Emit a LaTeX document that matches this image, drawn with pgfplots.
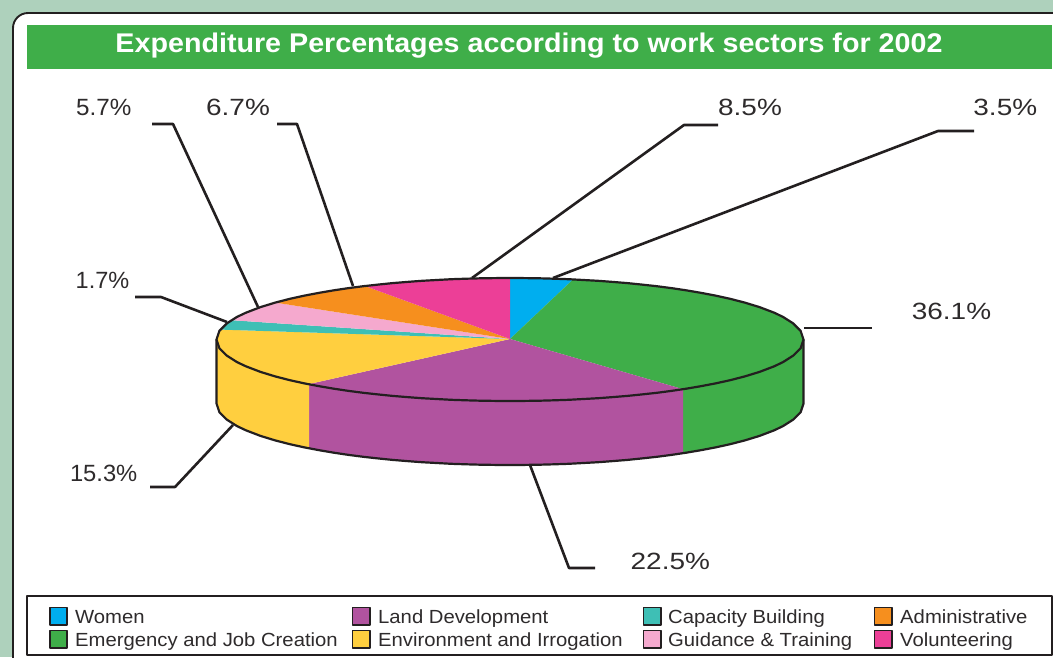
\documentclass[border=0pt]{standalone}
\usepackage{graphicx}
\usepackage{pgfplots}
\usepackage{fontspec}
\setmainfont{Liberation Sans}
\pgfplotsset{compat=1.18}
\definecolor{bgg}{HTML}{AED1BC}
\definecolor{ink}{HTML}{231F20}
\definecolor{txt}{HTML}{2E2B2C}
\definecolor{cW}{HTML}{00AEEF}
\definecolor{cE}{HTML}{3FAE49}
\definecolor{cL}{HTML}{B1539F}
\definecolor{cY}{HTML}{FFCF3F}
\definecolor{cC}{HTML}{3EBFB5}
\definecolor{cG}{HTML}{F5A9CE}
\definecolor{cA}{HTML}{F68F1E}
\definecolor{cV}{HTML}{EC3F97}
\begin{document}
\begin{tikzpicture}
\useasboundingbox (0,0) rectangle (1053pt,657pt);
\begin{axis}[at={(0,0)},anchor=south west,scale only axis,width=1053pt,height=657pt,
 xmin=0,xmax=1053,ymin=0,ymax=657,y dir=reverse,hide axis,clip=true,
 every axis plot/.append style={line join=round}]
% background and panel
\addplot[draw=none,fill=bgg] coordinates {(0,0)(1053,0)(1053,657)(0,657)} -- cycle;
\addplot[draw=ink,line width=1.9pt,fill=white,rounded corners=15pt] coordinates {(13,720)(13,13)(1120,13)(1120,720)} -- cycle;
\addplot[draw=none,fill=cE] coordinates {(27,25)(1052,25)(1052,69)(27,69)} -- cycle;
% side walls
\addplot[draw=none,fill=cE] coordinates {(803.5,339.5)(800.6,348.2)(793.2,355.6)(783,362.1)(774.2,366.3)(759.5,371.9)(744.8,376.4)(730.1,380.2)(715.5,383.4)(700.8,386.2)(686.1,388.7)(683,389.2)(683,453.2)(686.1,452.7)(700.8,450.2)(715.5,447.4)(730.1,444.2)(744.8,440.4)(759.5,435.9)(774.2,430.3)(783,426.1)(793.2,419.6)(800.6,412.2)(803.5,403.5)} -- cycle;
\addplot[draw=none,fill=cL] coordinates {(683,389.2)(671.4,390.9)(656.8,392.8)(642.1,394.4)(627.4,395.9)(612.7,397.1)(598.1,398.2)(583.4,399)(568.7,399.8)(554,400.3)(539.4,400.7)(524.7,400.9)(510,401)(495.3,400.9)(480.7,400.7)(466,400.3)(451.3,399.8)(436.6,399)(422,398.2)(407.3,397.1)(392.6,395.9)(377.9,394.4)(363.3,392.8)(348.6,390.9)(333.9,388.7)(319.2,386.2)(309,384)(309,448)(319.2,450.2)(333.9,452.7)(348.6,454.9)(363.3,456.8)(377.9,458.4)(392.6,459.9)(407.3,461.1)(422,462.2)(436.6,463)(451.3,463.8)(466,464.3)(480.7,464.7)(495.3,464.9)(510,465)(524.7,464.9)(539.4,464.7)(554,464.3)(568.7,463.8)(583.4,463)(598.1,462.2)(612.7,461.1)(627.4,459.9)(642.1,458.4)(656.8,456.8)(671.4,454.9)(683,453.2)} -- cycle;
\addplot[draw=none,fill=cY] coordinates {(309,384)(304.5,383.4)(289.9,380.2)(275.2,376.4)(260.5,371.9)(245.9,366.3)(237,362.1)(226.8,355.6)(219.4,348.2)(216.5,339.5)(216.5,403.5)(219.4,412.2)(226.8,419.6)(237,426.1)(245.9,430.3)(260.5,435.9)(275.2,440.4)(289.9,444.2)(304.5,447.4)(309,448)} -- cycle;
% top slices
\addplot[draw=none,fill=cW] coordinates {(510,339)(510,278)(524.7,278.1)(539.4,278.3)(554,278.7)(568.7,279.2)(573,279.5)} -- cycle;
\addplot[draw=none,fill=cE] coordinates {(510,339)(573,279.5)(583.4,280)(598.1,280.8)(612.7,281.9)(627.4,283.1)(642.1,284.6)(656.8,286.2)(671.4,288.1)(686.1,290.3)(700.8,292.8)(715.5,295.6)(730.1,298.8)(744.8,302.6)(759.5,307.1)(774.2,312.7)(783,316.9)(793.2,323.4)(800.6,330.8)(803.5,339.5)(800.6,348.2)(793.2,355.6)(783,362.1)(774.2,366.3)(759.5,371.9)(744.8,376.4)(730.1,380.2)(715.5,383.4)(700.8,386.2)(686.1,388.7)(683,389.2)} -- cycle;
\addplot[draw=none,fill=cL] coordinates {(510,339)(683,389.2)(671.4,390.9)(656.8,392.8)(642.1,394.4)(627.4,395.9)(612.7,397.1)(598.1,398.2)(583.4,399)(568.7,399.8)(554,400.3)(539.4,400.7)(524.7,400.9)(510,401)(495.3,400.9)(480.7,400.7)(466,400.3)(451.3,399.8)(436.6,399)(422,398.2)(407.3,397.1)(392.6,395.9)(377.9,394.4)(363.3,392.8)(348.6,390.9)(333.9,388.7)(319.2,386.2)(309,384)} -- cycle;
\addplot[draw=none,fill=cY] coordinates {(510,339)(309,384)(304.5,383.4)(289.9,380.2)(275.2,376.4)(260.5,371.9)(245.9,366.3)(237,362.1)(226.8,355.6)(219.4,348.2)(216.5,339.5)(219.4,330.8)(220.5,329.6)} -- cycle;
\addplot[draw=none,fill=cC] coordinates {(510,339)(220.5,329.6)(226.8,323.4)(232,320.2)} -- cycle;
\addplot[draw=none,fill=cG] coordinates {(510,339)(232,320.2)(237,316.9)(245.9,312.7)(260.5,307.1)(275.2,302.6)} -- cycle;
\addplot[draw=none,fill=cA] coordinates {(510,339)(275.2,302.6)(289.9,298.8)(304.5,295.6)(319.2,292.8)(333.9,290.3)(348.6,288.1)(365,286)} -- cycle;
\addplot[draw=none,fill=cV] coordinates {(510,339)(365,286)(377.9,284.6)(392.6,283.1)(407.3,281.9)(422,280.8)(436.6,280)(451.3,279.2)(466,278.7)(480.7,278.3)(495.3,278.1)(510,278)} -- cycle;
% outlines
\addplot[draw=ink,line width=2.2pt] coordinates {(510,278)(524.7,278.1)(539.4,278.3)(554,278.7)(568.7,279.2)(583.4,280)(598.1,280.8)(612.7,281.9)(627.4,283.1)(642.1,284.6)(656.8,286.2)(671.4,288.1)(686.1,290.3)(700.8,292.8)(715.5,295.6)(730.1,298.8)(744.8,302.6)(759.5,307.1)(774.2,312.7)(783,316.9)(793.2,323.4)(800.6,330.8)(803.5,339.5)(800.6,348.2)(793.2,355.6)(783,362.1)(774.2,366.3)(759.5,371.9)(744.8,376.4)(730.1,380.2)(715.5,383.4)(700.8,386.2)(686.1,388.7)(671.4,390.9)(656.8,392.8)(642.1,394.4)(627.4,395.9)(612.7,397.1)(598.1,398.2)(583.4,399)(568.7,399.8)(554,400.3)(539.4,400.7)(524.7,400.9)(510,401)(495.3,400.9)(480.7,400.7)(466,400.3)(451.3,399.8)(436.6,399)(422,398.2)(407.3,397.1)(392.6,395.9)(377.9,394.4)(363.3,392.8)(348.6,390.9)(333.9,388.7)(319.2,386.2)(304.5,383.4)(289.9,380.2)(275.2,376.4)(260.5,371.9)(245.9,366.3)(237,362.1)(226.8,355.6)(219.4,348.2)(216.5,339.5)(219.4,330.8)(226.8,323.4)(237,316.9)(245.9,312.7)(260.5,307.1)(275.2,302.6)(289.9,298.8)(304.5,295.6)(319.2,292.8)(333.9,290.3)(348.6,288.1)(363.3,286.2)(377.9,284.6)(392.6,283.1)(407.3,281.9)(422,280.8)(436.6,280)(451.3,279.2)(466,278.7)(480.7,278.3)(495.3,278.1)(510,278)} -- cycle;
\addplot[draw=ink,line width=2.2pt] coordinates {(803.5,339.5)(803.5,403.5)(800.6,412.2)(793.2,419.6)(783,426.1)(774.2,430.3)(759.5,435.9)(744.8,440.4)(730.1,444.2)(715.5,447.4)(700.8,450.2)(686.1,452.7)(671.4,454.9)(656.8,456.8)(642.1,458.4)(627.4,459.9)(612.7,461.1)(598.1,462.2)(583.4,463)(568.7,463.8)(554,464.3)(539.4,464.7)(524.7,464.9)(510,465)(495.3,464.9)(480.7,464.7)(466,464.3)(451.3,463.8)(436.6,463)(422,462.2)(407.3,461.1)(392.6,459.9)(377.9,458.4)(363.3,456.8)(348.6,454.9)(333.9,452.7)(319.2,450.2)(304.5,447.4)(289.9,444.2)(275.2,440.4)(260.5,435.9)(245.9,430.3)(237,426.1)(226.8,419.6)(219.4,412.2)(216.5,403.5)(216.5,339.5)};
% leader lines
\addplot[draw=ink,line width=2.6pt] coordinates {(152,124)(173,124)(258,307)};
\addplot[draw=ink,line width=2.6pt] coordinates {(277,124)(297,124)(353,286)};
\addplot[draw=ink,line width=2.6pt] coordinates {(718,125)(684,125)(472,278)};
\addplot[draw=ink,line width=2.6pt] coordinates {(974,131)(938,131)(553,278)};
\addplot[draw=ink,line width=2.6pt] coordinates {(804,328)(872,328)};
\addplot[draw=ink,line width=2.6pt] coordinates {(530,465)(569,568)(595,568)};
\addplot[draw=ink,line width=2.6pt] coordinates {(150,487)(175,487)(233,425)};
\addplot[draw=ink,line width=2.6pt] coordinates {(135,297)(161,297)(227,322)};
% legend box
\addplot[draw=ink,line width=1.7pt,fill=white] coordinates {(27,596)(1052,596)(1052,655)(27,655)} -- cycle;
\addplot[only marks,mark=square*,mark size=8.6pt,mark options={draw=ink,line width=1.8pt,fill=cW}] coordinates {(58.5,616)};
\addplot[only marks,mark=square*,mark size=8.6pt,mark options={draw=ink,line width=1.8pt,fill=cE}] coordinates {(58.5,639)};
\addplot[only marks,mark=square*,mark size=8.6pt,mark options={draw=ink,line width=1.8pt,fill=cL}] coordinates {(361,616)};
\addplot[only marks,mark=square*,mark size=8.6pt,mark options={draw=ink,line width=1.8pt,fill=cY}] coordinates {(361,639)};
\addplot[only marks,mark=square*,mark size=8.6pt,mark options={draw=ink,line width=1.8pt,fill=cC}] coordinates {(652,616)};
\addplot[only marks,mark=square*,mark size=8.6pt,mark options={draw=ink,line width=1.8pt,fill=cG}] coordinates {(652,639)};
\addplot[only marks,mark=square*,mark size=8.6pt,mark options={draw=ink,line width=1.8pt,fill=cA}] coordinates {(883,616)};
\addplot[only marks,mark=square*,mark size=8.6pt,mark options={draw=ink,line width=1.8pt,fill=cV}] coordinates {(883,639)};
% text
\node[text=white,inner sep=0pt,font=\fontsize{27}{30}\selectfont\bfseries] at (axis cs:529,46) {\scalebox{1.062}[1]{Expenditure Percentages according to work sectors for 2002}};
\tikzset{pct/.style={text=txt,inner sep=0pt,font=\fontsize{23.5}{26}\selectfont},lg/.style={text=txt,inner sep=0pt,anchor=base west,font=\fontsize{19}{22}\selectfont}}
\node[pct] at (axis cs:103.7,107) {\scalebox{1.03}[1]{5.7\%}};
\node[pct] at (axis cs:238,107) {\scalebox{1.19}[1]{6.7\%}};
\node[pct] at (axis cs:750,107) {\scalebox{1.19}[1]{8.5\%}};
\node[pct] at (axis cs:1005.3,107) {\scalebox{1.19}[1]{3.5\%}};
\node[pct] at (axis cs:951.5,311) {\scalebox{1.19}[1]{36.1\%}};
\node[pct] at (axis cs:670.3,561) {\scalebox{1.19}[1]{22.5\%}};
\node[pct] at (axis cs:103.7,473) {\scalebox{1.01}[1]{15.3\%}};
\node[pct] at (axis cs:102.5,280) {\scalebox{1.0}[1]{1.7\%}};
\node[lg] at (axis cs:75,623) {\scalebox{1.067}[1]{Women}};
\node[lg] at (axis cs:75,646) {\scalebox{1.067}[1]{Emergency and Job Creation}};
\node[lg] at (axis cs:378,623) {\scalebox{1.067}[1]{Land Development}};
\node[lg] at (axis cs:378,646) {\scalebox{1.067}[1]{Environment and Irrogation}};
\node[lg] at (axis cs:668,623) {\scalebox{1.067}[1]{Capacity Building}};
\node[lg] at (axis cs:668,646) {\scalebox{1.067}[1]{Guidance \& Training}};
\node[lg] at (axis cs:900,623) {\scalebox{1.067}[1]{Administrative}};
\node[lg] at (axis cs:900,646) {\scalebox{1.067}[1]{Volunteering}};
\end{axis}
\end{tikzpicture}
\end{document}
